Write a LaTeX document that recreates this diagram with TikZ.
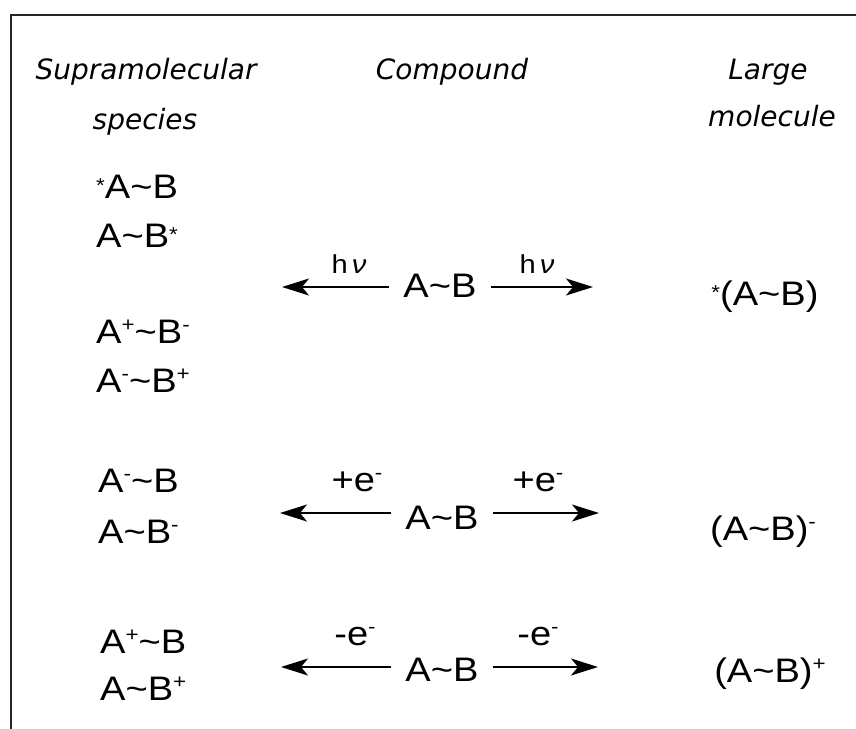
\documentclass[tikz,border=0pt]{standalone}
\usepackage{fontspec}
\setmainfont{Liberation Sans}[FakeStretch=1.12]
\newfontfamily\headfont{DejaVu Sans}
\usetikzlibrary{arrows.meta}

\newcommand{\tl}{\textasciitilde}
\newcommand{\chg}[1]{\raisebox{12bp}{\fontsize{20bp}{20bp}\selectfont #1}}
\newcommand{\exc}{\raisebox{6bp}{\fontsize{20bp}{20bp}\selectfont *}}

\begin{document}
\begin{tikzpicture}[x=1bp, y=-1bp,
    head/.style={font=\headfont\itshape\fontsize{28bp}{34bp}\selectfont, inner sep=0pt, anchor=base},
    spc/.style={font=\fontsize{34bp}{40bp}\selectfont, inner sep=0pt, anchor=base west},
    cpd/.style={font=\fontsize{34bp}{40bp}\selectfont, inner xsep=14bp, inner ysep=0pt, anchor=base},
    lbl/.style={font=\fontsize{34bp}{40bp}\selectfont, inner sep=0pt, anchor=base},
    hv/.style={font=\fontsize{26bp}{30bp}\selectfont, inner sep=0pt, anchor=base},
    rxn/.style={-{Stealth[length=27bp,width=17bp,inset=7bp]}, line width=1.5bp}]
    \useasboundingbox (0,0) rectangle (856,729);
    \draw[line width=1.5bp, black!85] (856,15) -- (11,15) -- (11,729);

    % column heads
    \node[head] (hsup) at (146,80) {Supramolecular};
    \node[head] (hspc) at (145,130) {species};
    \node[head] (hcpd) at (452,80) {Compound};
    \node[head] (hlrg) at (768,80) {Large};
    \node[head] (hmol) at (772,127) {molecule};

    % light
    \node[spc] (s1) at (96,198) {\exc A\tl B};
    \node[spc] (s2) at (96,247) {A\tl B\exc};
    \node[spc] (s3) at (96,343) {A\chg{+}\tl B\chg{-}};
    \node[spc] (s4) at (96,392) {A\chg{-}\tl B\chg{+}};
    \node[cpd] (c1) at (440,297) {A\tl B};
    \coordinate (l1) at (282,287);
    \coordinate (r1) at (593,287);
    \draw[rxn] (c1.west |- l1) -- (l1);
    \draw[rxn] (c1.east |- r1) -- (r1);
    \node[hv] (hv1) at (349,273) {h\hspace{4bp}\textit{ν}};
    \node[hv] (hv2) at (537,273) {h\hspace{4bp}\textit{ν}};
    \node[lbl] (m1) at (765,305) {\exc(A\tl B)};

    % reduction
    \node[spc] (s5) at (98,492) {A\chg{-}\tl B};
    \node[spc] (s6) at (98,543) {A\tl B\chg{-}};
    \node[cpd] (c2) at (442,529) {A\tl B};
    \coordinate (l2) at (280,513);
    \coordinate (r2) at (599,513);
    \draw[rxn] (c2.west |- l2) -- (l2);
    \draw[rxn] (c2.east |- r2) -- (r2);
    \node[lbl] (red1) at (357,491) {+e\chg{-}};
    \node[lbl] (red2) at (538,491) {+e\chg{-}};
    \node[lbl] (m2) at (763,540) {(A\tl B)\chg{-}};

    % oxidation
    \node[spc] (s7) at (100,653) {A\chg{+}\tl B};
    \node[spc] (s8) at (100,700) {A\tl B\chg{+}};
    \node[cpd] (c3) at (442,681) {A\tl B};
    \coordinate (l3) at (281,667);
    \coordinate (r3) at (598,667);
    \draw[rxn] (c3.west |- l3) -- (l3);
    \draw[rxn] (c3.east |- r3) -- (r3);
    \node[lbl] (ox1) at (355,645) {-e\chg{-}};
    \node[lbl] (ox2) at (538,645) {-e\chg{-}};
    \node[lbl] (m3) at (770,682) {(A\tl B)\chg{+}};
\end{tikzpicture}
\end{document}
